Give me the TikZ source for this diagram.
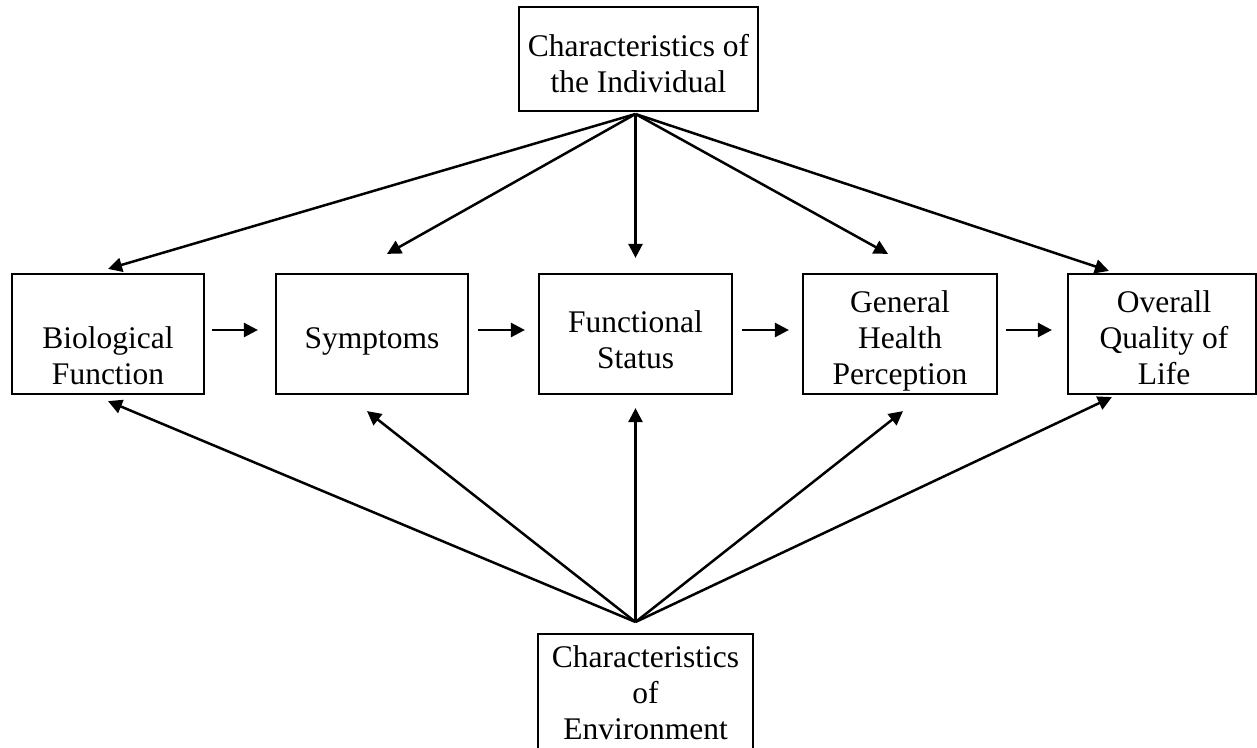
\documentclass[tikz,border=0pt]{standalone}
\usepackage{fontspec}
\setmainfont{Liberation Serif}
\usetikzlibrary{arrows.meta,calc}
\begin{document}
\begin{tikzpicture}[x=1pt,y=-1pt,
  box/.style={draw, line width=2.2pt, inner sep=0pt, minimum height=120pt},
  txt/.style={inner sep=0pt, align=center, font=\fontsize{31.5}{36}\selectfont},
  arr/.style={line width=2.5pt, -{Triangle[length=14pt,width=14pt]}}]
\clip (0,0) rectangle (1257,747);
\useasboundingbox (0,0) rectangle (1257,747);
\fill[white] (0,0) rectangle (1257,747);
% boxes
\node[box, minimum width=239pt, minimum height=104pt] (top) at (638.5,59) {};
\node[box, minimum width=192pt] (bio) at (108,334) {};
\node[box, minimum width=192pt] (symp) at (372,334) {};
\node[box, minimum width=193pt] (func) at (635.5,334) {};
\node[box, minimum width=194pt] (ghp) at (900,334) {};
\node[box, minimum width=188pt] (qol) at (1162,334) {};
\node[box, minimum width=215pt, minimum height=150pt] (env) at (645.5,709) {};
% texts
\node[txt] (toptxt) at (638.5,66.8) {\strut Characteristics of\\\strut the Individual};
\node[txt] (biotxt) at (108,358.8) {\strut Biological\\\strut Function};
\node[txt] (symptxt) at (372,340.8) {\strut Symptoms};
\node[txt] (functxt) at (635.5,342.8) {\strut Functional\\\strut Status};
\node[txt] (ghptxt) at (900,340.8) {\strut General\\\strut Health\\\strut Perception};
\node[txt] (qoltxt) at (1164,340.8) {\strut Overall\\\strut Quality of\\\strut Life};
\node[txt] (envtxt) at (645.5,695.8) {\strut Characteristics\\\strut of\\\strut Environment};
% convergence points
\coordinate (tc) at (635.5,114);
\coordinate (bc) at (635.5,622);
% arrows from top
\draw[arr] (tc) -- ($(bio.north)+(0,-4)$);
\draw[arr] (tc) -- ($(symp.north)+(15,-19)$);
\draw[arr] (tc) -- ($(func.north)+(0,-15)$);
\draw[arr] (tc) -- ($(ghp.north)+(-12,-19)$);
\draw[arr] (tc) -- ($(qol.north west)+(42,-2)$);
% arrows from bottom
\draw[arr] (bc) -- ($(bio.south)+(0,6)$);
\draw[arr] (bc) -- ($(symp.south)+(-5,16)$);
\draw[arr] (bc) -- ($(func.south)+(0,13)$);
\draw[arr] (bc) -- ($(ghp.south)+(3,16)$);
\draw[arr] (bc) -- ($(qol.south west)+(45,2)$);
% horizontal chain
\draw[arr] ($(bio.east)+(7,-4)$) -- ($(symp.west)+(-17,-4)$);
\draw[arr] ($(symp.east)+(9,-4)$) -- ($(func.west)+(-13,-4)$);
\draw[arr] ($(func.east)+(9,-4)$) -- ($(ghp.west)+(-13,-4)$);
\draw[arr] ($(ghp.east)+(8,-4)$) -- ($(qol.west)+(-15,-4)$);
\end{tikzpicture}
\end{document}
